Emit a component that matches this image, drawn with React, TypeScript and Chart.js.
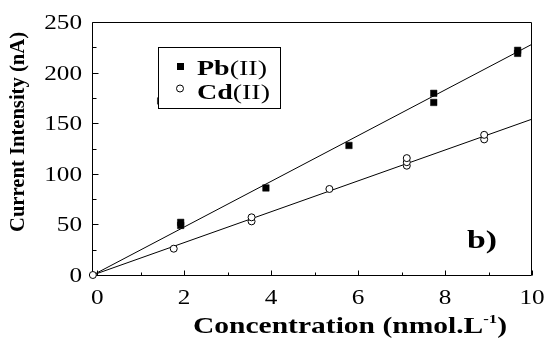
import React, { useEffect, useRef } from "react";
import { Chart, registerables } from "chart.js";
Chart.register(...registerables);

// ---- data ----
const pbX = [1.92, 1.92, 1.46, 3.88, 5.79, 7.74, 7.74, 9.67, 9.67];
const pbY = [49, 52, 172, 86, 128, 179.5, 170.5, 222, 219];
const cdX = [-0.1, 1.76, 3.55, 3.55, 5.34, 7.12, 7.12, 7.12, 8.9, 8.9];
const cdY = [0, 26, 53, 57, 85, 108, 111.5, 115.5, 134, 138.5];
const pbFitX = [-0.1, 10];
const pbFitY = [0, 228];
const cdFitX = [-0.1, 10];
const cdFitY = [0, 154];
const xTicks = [0, 2, 4, 6, 8, 10];
const xMinorTicks = [1, 3, 5, 7, 9];
const yTicks = [0, 50, 100, 150, 200, 250];
const yMinorTicks = [25, 75, 125, 175, 225];
const seriesNames = ["Pb", "Cd"];
const seriesSuffix = "(II)";
const xTitleMain = "Concentration (nmol.L";
const xTitleSup = "-1";
const xTitleEnd = ")";
const yTitle = "Current Intensity (nA)";
const panelLabel = "b)";

const SERIF = '"Liberation Serif", "Times New Roman", serif';

function pts(xs: number[], ys: number[]) {
  return xs.map((x, i) => ({ x, y: ys[i] }));
}

function drawParts(
  ctx: CanvasRenderingContext2D,
  parts: { t: string; font: string; dy?: number }[],
  x: number,
  y: number,
  targetW: number,
  align: "left" | "center"
) {
  const widths = parts.map((p) => {
    ctx.font = p.font;
    return ctx.measureText(p.t).width;
  });
  const total = widths.reduce((a, b) => a + b, 0);
  const s = targetW / total;
  ctx.save();
  ctx.translate(align === "center" ? x - targetW / 2 : x, y);
  ctx.scale(s, 1);
  ctx.textAlign = "left";
  ctx.textBaseline = "alphabetic";
  let cx = 0;
  parts.forEach((p, i) => {
    ctx.font = p.font;
    ctx.fillText(p.t, cx, p.dy || 0);
    cx += widths[i];
  });
  ctx.restore();
}

const decor = {
  id: "decor",
  beforeDatasetsDraw(chart: any) {
    const { ctx, chartArea: a, scales } = chart;
    const xs = scales.x;
    const ys = scales.y;
    const L = Math.round(a.left) + 0.5;
    const R = Math.round(a.right) - 0.5;
    const T = Math.round(a.top) + 0.5;
    const B = Math.round(a.bottom) + 0.5;
    ctx.save();
    ctx.strokeStyle = "#000";
    ctx.lineWidth = 1;
    ctx.beginPath();
    ctx.moveTo(L, T);
    ctx.lineTo(R, T);
    ctx.lineTo(R, B);
    ctx.lineTo(L, B);
    ctx.closePath();
    ctx.stroke();
    ctx.beginPath();
    yTicks.forEach((v) => {
      const py = Math.round(ys.getPixelForValue(v)) + 0.5;
      ctx.moveTo(L, py);
      ctx.lineTo(L + 6, py);
    });
    yMinorTicks.forEach((v) => {
      const py = Math.round(ys.getPixelForValue(v)) + 0.5;
      ctx.moveTo(L, py);
      ctx.lineTo(L + 4, py);
    });
    xTicks.forEach((v) => {
      const px = Math.round(xs.getPixelForValue(v)) + 0.5;
      ctx.moveTo(px, B);
      ctx.lineTo(px, B - 5);
    });
    xMinorTicks.forEach((v) => {
      const px = Math.round(xs.getPixelForValue(v)) + 0.5;
      ctx.moveTo(px, B);
      ctx.lineTo(px, B - 3);
    });
    ctx.stroke();

    // tick labels
    ctx.fillStyle = "#000";
    const tf = `21px ${SERIF}`;
    yTicks.forEach((v) => {
      const py = ys.getPixelForValue(v);
      ctx.save();
      ctx.font = tf;
      ctx.translate(82, py + 7);
      ctx.scale(1.2, 1);
      ctx.textAlign = "right";
      ctx.textBaseline = "alphabetic";
      ctx.fillText(String(v), 0, 0);
      ctx.restore();
    });
    xTicks.forEach((v) => {
      const px = xs.getPixelForValue(v);
      ctx.save();
      ctx.font = tf;
      ctx.translate(px, 304);
      ctx.scale(1.2, 1);
      ctx.textAlign = "center";
      ctx.textBaseline = "alphabetic";
      ctx.fillText(String(v), 0, 0);
      ctx.restore();
    });

    // axis titles
    const bf = `bold 23px ${SERIF}`;
    drawParts(
      ctx,
      [
        { t: xTitleMain, font: bf },
        { t: xTitleSup, font: `bold 13px ${SERIF}`, dy: -10 },
        { t: xTitleEnd, font: bf },
      ],
      350,
      333,
      314,
      "center"
    );
    ctx.save();
    ctx.font = `bold 20px ${SERIF}`;
    const w = ctx.measureText(yTitle).width;
    ctx.translate(24, 132);
    ctx.rotate(-Math.PI / 2);
    ctx.scale(200 / w, 1);
    ctx.textAlign = "center";
    ctx.textBaseline = "alphabetic";
    ctx.fillText(yTitle, 0, 0);
    ctx.restore();
    ctx.restore();
  },
  afterDatasetsDraw(chart: any) {
    const { ctx } = chart;
    ctx.save();
    // legend box
    ctx.fillStyle = "#fff";
    ctx.fillRect(158, 47, 123, 62);
    ctx.strokeStyle = "#000";
    ctx.lineWidth = 1;
    ctx.strokeRect(158.5, 47.5, 122, 61);
    ctx.fillStyle = "#000";
    ctx.fillRect(177, 63, 7, 7);
    ctx.beginPath();
    ctx.arc(180, 88.5, 3.5, 0, Math.PI * 2);
    ctx.stroke();
    const lf = `22px ${SERIF}`;
    const lb = `bold 22px ${SERIF}`;
    drawParts(ctx, [{ t: seriesNames[0], font: lb }, { t: seriesSuffix, font: lf }], 197, 75, 70, "left");
    drawParts(ctx, [{ t: seriesNames[1], font: lb }, { t: seriesSuffix, font: lf }], 197, 99, 73, "left");
    // panel label
    drawParts(ctx, [{ t: panelLabel, font: `bold 26px ${SERIF}` }], 467, 248, 30, "left");
    ctx.restore();
  },
};

export default function App() {
  const ref = useRef<HTMLCanvasElement | null>(null);
  useEffect(() => {
    if (!ref.current) return;
    const chart = new Chart(ref.current, {
      type: "scatter",
      data: {
        datasets: [
          {
            label: "Cd(II)",
            data: pts(cdX, cdY),
            pointStyle: "circle",
            pointRadius: 3.5,
            pointBorderWidth: 1,
            pointBackgroundColor: "#fff",
            pointBorderColor: "#000",
            clip: false,
          } as any,
          {
            label: "Pb(II)",
            data: pts(pbX, pbY),
            pointStyle: "rect",
            pointRadius: 4.6,
            pointBorderWidth: 0.5,
            pointBackgroundColor: "#000",
            pointBorderColor: "#000",
            clip: false,
          } as any,
          {
            label: "Pb fit",
            data: pts(pbFitX, pbFitY),
            showLine: true,
            borderColor: "#000",
            borderWidth: 1,
            pointRadius: 0,
            clip: false,
          } as any,
          {
            label: "Cd fit",
            data: pts(cdFitX, cdFitY),
            showLine: true,
            borderColor: "#000",
            borderWidth: 1,
            pointRadius: 0,
            clip: false,
          } as any,
        ],
      },
      options: {
        animation: false,
        responsive: false,
        events: [],
        layout: { padding: { top: 22, right: 12, left: 0, bottom: 0 } },
        plugins: { legend: { display: false }, tooltip: { enabled: false } },
        scales: {
          x: {
            type: "linear",
            min: -0.12,
            max: 10,
            ticks: { display: false },
            grid: { display: false, drawTicks: false },
            border: { display: false },
            afterFit: (s: any) => {
              s.height = 65;
            },
          },
          y: {
            type: "linear",
            min: 0,
            max: 250,
            ticks: { display: false },
            grid: { display: false, drawTicks: false },
            border: { display: false },
            afterFit: (s: any) => {
              s.width = 92;
            },
          },
        },
      },
      plugins: [decor as any],
    });
    return () => chart.destroy();
  }, []);
  return (
    <div style={{ position: "absolute", left: 0, top: 0, width: 544, height: 340, background: "#fff" }}>
      <canvas ref={ref} width={544} height={340} style={{ display: "block" }} />
    </div>
  );
}
